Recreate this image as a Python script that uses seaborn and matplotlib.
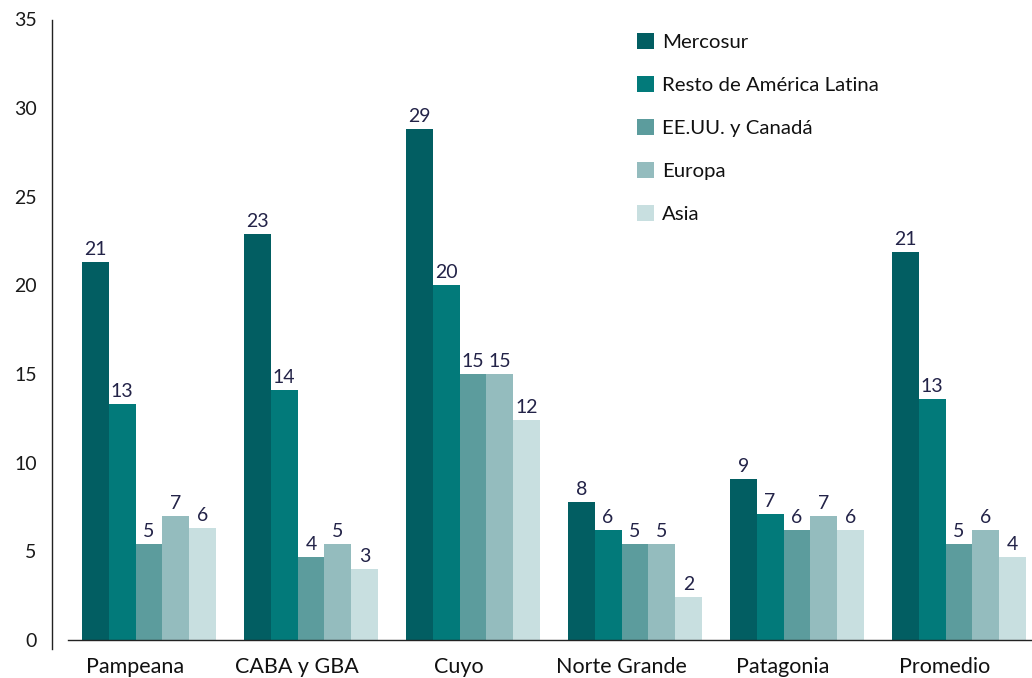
import numpy as np
import pandas as pd
import matplotlib
matplotlib.use('Agg')
import matplotlib.pyplot as plt
import matplotlib.transforms as mtransforms
import seaborn as sns

# ── data ──
regiones = ['Pampeana', 'CABA y GBA', 'Cuyo', 'Norte Grande', 'Patagonia', 'Promedio']
destinos = ['Mercosur', 'Resto de América Latina', 'EE.UU. y Canadá', 'Europa', 'Asia']

mercosur = [21.3, 22.9, 28.8, 7.8, 9.1, 21.9]
resto_al = [13.3, 14.1, 20.0, 6.2, 7.1, 13.6]
eeuu_can = [5.4, 4.7, 15.0, 5.4, 6.2, 5.4]
europa   = [7.0, 5.4, 15.0, 5.4, 7.0, 6.2]
asia     = [6.3, 4.0, 12.4, 2.4, 6.2, 4.7]

# labels as printed on the chart
lab_mercosur = ['21', '23', '29', '8', '9', '21']
lab_resto_al = ['13', '14', '20', '6', '7', '13']
lab_eeuu_can = ['5', '4', '15', '5', '6', '5']
lab_europa   = ['7', '5', '15', '5', '7', '6']
lab_asia     = ['6', '3', '12', '2', '6', '4']

colores = ['#025e62', '#027a7a', '#5c9c9d', '#94bcbe', '#c8dfe0']

series = [mercosur, resto_al, eeuu_can, europa, asia]
etiquetas = [lab_mercosur, lab_resto_al, lab_eeuu_can, lab_europa, lab_asia]

df = pd.DataFrame({
    'region':  np.tile(regiones, len(destinos)),
    'destino': np.repeat(destinos, len(regiones)),
    'valor':   np.concatenate(series),
})

sns.set_theme(style='white')
plt.rcParams['font.family'] = ['Lato', 'DejaVu Sans']

fig = plt.figure(figsize=(10.32, 6.78), dpi=100)
ax = fig.add_axes([68 / 1032, 38 / 678, (1040 - 68) / 1032, (640 - 19.5) / 678])

sns.barplot(data=df, x='region', y='valor', hue='destino', order=regiones,
            hue_order=destinos, palette=colores, width=0.83, gap=0,
            saturation=1, linewidth=0, ax=ax)

for cont, labs in zip(ax.containers, etiquetas):
    ax.bar_label(cont, labels=labs, padding=3, fontsize=14, color='#232348')

ax.set_ylim(0, 35)
ax.set_xlim(-0.5, 5.5)
ax.set_yticks(range(0, 36, 5))
ax.set_xlabel('')
ax.set_ylabel('')

for s in ['top', 'right']:
    ax.spines[s].set_visible(False)
ax.spines['left'].set_position(('outward', 11.5))
ax.spines['left'].set_bounds(-0.5, 35)   # runs a little below the baseline
ax.spines['left'].set_color('#222222')
ax.spines['bottom'].set_color('#222222')
ax.spines['left'].set_linewidth(1.0)
ax.spines['bottom'].set_linewidth(1.0)
ax.set_ylim(0, 35)

ax.tick_params(axis='y', which='major', direction='out', length=5, width=1,
               color='#222222', pad=6, labelsize=14, labelcolor='#1a1a1a')
ax.tick_params(axis='x', which='major', length=0, pad=12, labelsize=15.5,
               labelcolor='#111111')
ax.set_xticks(np.arange(0.5, 5.5, 1), minor=True)
ax.tick_params(axis='x', which='minor', direction='out', length=7, width=1,
               color='#222222')

# category labels sit a bit left of the group centre in the original
shift = mtransforms.ScaledTranslation(-14 / 100, 0, fig.dpi_scale_trans)
for lbl in ax.get_xticklabels():
    lbl.set_transform(lbl.get_transform() + shift)

leg = ax.legend(loc='upper left', bbox_to_anchor=(637 / 1032, 1 - 33 / 678),
                bbox_transform=fig.transFigure, frameon=False, fontsize=14.7,
                handlelength=0.83, handleheight=0.83, handletextpad=0.4,
                labelspacing=1.22, borderpad=0, borderaxespad=0)
for t in leg.get_texts():
    t.set_color('#111111')

fig.savefig('out.png', dpi=100)
